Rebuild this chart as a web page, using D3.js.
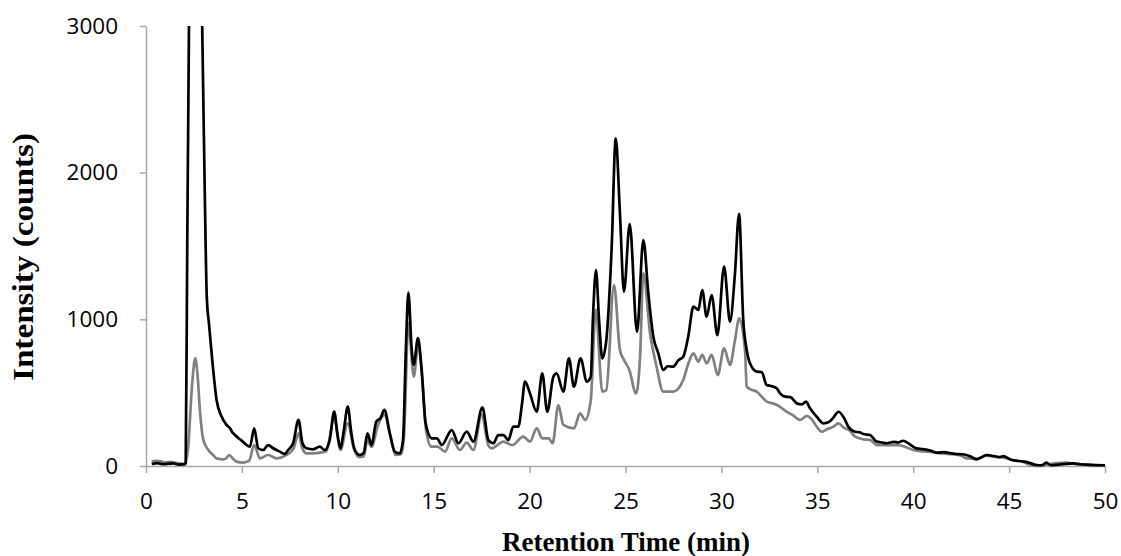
<!DOCTYPE html>
<html><head><meta charset="utf-8">
<script src="https://cdn.jsdelivr.net/npm/d3@7"></script>
<style>body{margin:0;background:#fff}</style>
</head><body><svg id="c" width="1121" height="556"></svg>
<script>
const xTicks = [0,5,10,15,20,25,30,35,40,45,50];
const yTicks = [0,1000,2000,3000];

const timeBlack = [0.3,0.6,0.9,1.2,1.42,1.7,1.94,2.07,2.15,2.24,2.4,2.6,2.8,2.93,3.07,3.17,3.28,3.47,3.68,3.94,4.2,4.38,4.5,4.64,4.9,5.1,5.24,5.42,5.64,5.85,6.11,6.37,6.63,6.98,7.24,7.41,7.67,7.95,8.16,8.37,8.72,9.06,9.32,9.58,9.81,10.0,10.14,10.3,10.52,10.7,10.83,11.0,11.15,11.35,11.55,11.75,12.01,12.22,12.43,12.71,12.97,13.23,13.4,13.55,13.68,13.85,13.96,14.18,14.36,14.58,14.9,15.16,15.42,15.94,16.29,16.72,17.07,17.54,17.85,18.11,18.37,18.63,18.89,19.15,19.41,19.6,19.76,20.02,20.37,20.66,20.92,21.24,21.41,21.76,22.05,22.31,22.66,22.98,23.19,23.3,23.46,23.62,23.79,24.0,24.28,24.49,24.71,24.92,25.22,25.6,25.93,26.19,26.45,26.71,26.97,27.2,27.49,27.75,28.01,28.27,28.54,28.8,29.0,29.23,29.49,29.79,30.14,30.45,30.7,30.92,31.14,31.32,31.49,31.84,32.1,32.36,32.6,32.88,33.06,33.32,33.6,33.93,34.2,34.41,34.62,34.97,35.32,35.6,35.84,36.1,36.36,36.62,36.97,37.2,37.4,37.75,38.1,38.4,38.62,39.0,39.2,39.48,39.8,40.18,40.5,40.9,41.22,41.6,41.9,42.27,42.6,43.0,43.31,43.6,43.83,44.2,44.5,44.7,45.06,45.5,45.8,46.02,46.44,46.7,46.94,47.2,47.6,48.0,48.35,48.7,49.0,49.5,50.0];
const intensityBlack = [14,20,12,16,18,10,11,18,1500,3000,4800,5000,4000,3000,1816,1150,974,700,450,337,280,257,230,212,182,160,143,132,257,121,109,143,121,98,82,109,155,314,155,121,114,132,109,178,371,200,121,230,405,230,132,85,75,90,223,143,303,325,382,223,98,86,178,800,1183,800,690,872,678,291,189,189,143,245,155,234,166,400,177,155,211,211,177,268,268,420,575,495,370,632,370,609,632,507,734,541,734,575,609,1000,1336,1000,734,859,1495,2234,1723,1189,1650,916,1541,1178,882,768,655,680,677,720,745,882,1086,1064,1200,1018,1166,893,1359,984,1300,1720,995,791,700,643,640,552,545,530,495,473,470,427,420,439,393,336,291,300,330,370,336,268,234,230,218,211,166,160,155,165,160,172,150,120,115,105,91,95,88,82,80,65,45,62,75,68,60,68,45,34,30,23,7,5,23,5,10,14,18,12,9,6,5];

const timeGray = [0.3,0.5,0.73,1.0,1.3,1.6,1.9,2.03,2.2,2.4,2.57,2.7,2.81,2.99,3.25,3.5,3.68,4.03,4.2,4.34,4.5,4.72,5.07,5.38,5.64,5.94,6.37,6.8,7.33,7.7,7.95,8.15,8.37,9.0,9.4,9.81,10.14,10.52,10.83,11.1,11.35,11.55,11.75,12.1,12.43,12.75,13.0,13.3,13.45,13.68,13.96,14.18,14.4,14.6,14.88,15.2,15.59,15.94,16.37,16.72,17.07,17.5,17.85,18.02,18.63,19.1,19.67,20.02,20.37,20.66,21.0,21.2,21.5,21.76,22.31,22.63,22.9,23.19,23.45,23.79,24.0,24.4,24.71,24.92,25.2,25.55,25.76,25.93,26.28,26.62,26.97,27.49,28.01,28.28,28.54,28.8,29.0,29.23,29.49,29.81,30.14,30.45,30.7,30.93,31.23,31.32,31.6,31.84,32.1,32.36,32.6,32.88,33.1,33.4,33.7,34.1,34.45,34.7,34.97,35.23,35.5,35.84,36.1,36.4,36.7,36.97,37.4,37.75,38.1,38.6,39.2,39.6,40.0,40.5,41.0,41.5,42.0,42.5,42.8,43.3,43.8,44.3,44.8,45.2,45.7,46.1,46.5,47.0,47.5,48.0,48.4,49.0,49.5,50.0];
const intensityGray = [30,35,34,25,28,20,15,11,132,550,735,600,382,178,109,75,52,45,55,75,55,30,23,36,143,52,75,52,75,120,223,120,86,90,100,325,109,291,120,60,65,178,130,280,348,200,75,80,200,974,610,815,600,246,132,132,98,189,109,160,109,348,140,120,166,143,200,166,257,189,189,155,416,280,257,359,314,450,1064,507,518,1234,790,723,655,495,745,1314,905,677,507,507,586,700,768,711,757,700,757,620,802,690,850,1007,791,541,518,507,473,439,430,418,400,370,348,314,341,320,268,234,250,268,291,260,240,200,182,178,143,143,143,130,109,100,95,85,80,70,52,50,70,62,55,40,30,7,0,10,20,23,15,10,5,3];

const svg = d3.select('#c');
const x = d3.scaleLinear().domain([0,50]).range([146,1105]);
const y = d3.scaleLinear().domain([0,3000]).range([466,26]);
const axisColor = '#a6a6a6';
const tickFont = "'Open Sans', sans-serif";

svg.append('defs').append('clipPath').attr('id','clip')
  .append('rect').attr('x',140).attr('y',26).attr('width',980).attr('height',460);

const xAxis = svg.append('g').attr('transform','translate(0,466)')
  .call(d3.axisBottom(x).tickValues(xTicks).tickSize(7).tickSizeOuter(0).tickPadding(20).tickFormat(d3.format('d')));
const yAxis = svg.append('g').attr('transform','translate(146,0)')
  .call(d3.axisLeft(y).tickValues(yTicks).tickSize(6).tickSizeOuter(0).tickPadding(22).tickFormat(d3.format('d')));
[xAxis,yAxis].forEach(g=>{
  g.select('.domain').attr('stroke',axisColor).attr('stroke-width',1.5);
  g.selectAll('.tick line').attr('stroke',axisColor).attr('stroke-width',1.5);
  g.selectAll('.tick text').attr('fill','#000').style('font-family',tickFont).style('font-size','22.5px');
});

const line = d3.line().x(d=>x(d[0])).y(d=>y(d[1])).curve(d3.curveMonotoneX);
const grayData = d3.zip(timeGray,intensityGray);
const blackData = d3.zip(timeBlack,intensityBlack);
const plot = svg.append('g').attr('clip-path','url(#clip)');
plot.append('path').datum(grayData).attr('d',line).attr('fill','none')
  .attr('stroke','#808080').attr('stroke-width',2.7).attr('stroke-linejoin','round');
plot.append('path').datum(blackData).attr('d',line).attr('fill','none')
  .attr('stroke','#000').attr('stroke-width',2.7).attr('stroke-linejoin','round');

svg.append('text').attr('x',626).attr('y',551).attr('text-anchor','middle')
  .style('font-family',"'Liberation Serif', serif").style('font-weight','bold').style('font-size','27px')
  .text('Retention Time (min)');
svg.append('text').attr('transform','translate(33,257) rotate(-90)').attr('text-anchor','middle')
  .attr('textLength',248).attr('lengthAdjust','spacingAndGlyphs')
  .style('font-family',"'Liberation Serif', serif").style('font-weight','bold').style('font-size','29px')
  .text('Intensity (counts)');
</script></body></html>
